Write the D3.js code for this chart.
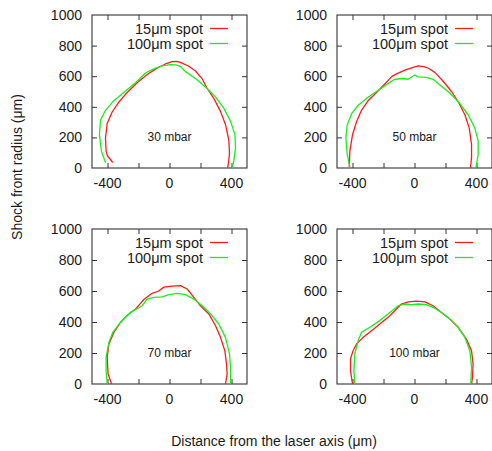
<!DOCTYPE html>
<html>
<head>
<meta charset="utf-8">
<script src="https://cdn.jsdelivr.net/npm/d3@7"></script>
<style>
  html, body { margin: 0; padding: 0; background: #fff; }
  svg { display: block; }
  text { font-family: "Liberation Sans", Arial, Helvetica, sans-serif; fill: #1a1a1a; }
</style>
</head>
<body>
<script>
// Pressure of each run (one panel each)
const pressures = ["30 mbar", "50 mbar", "70 mbar", "100 mbar"];
const seriesNames = ["15\u03bcm spot", "100\u03bcm spot"];
const xTickValues = [-400, -200, 0, 200, 400];
const xTickLabels = [-400, 0, 400];
const yTickValues = [0, 200, 400, 600, 800, 1000];

// Shock front contours: [distance from axis, radius] in µm
const spot15_30 = [[-366,36],[-400,80],[-409,110],[-413,196],[-402,291],[-370,366],[-327,430],[-273,494],[-209,557],[-144,611],[-80,653],[-26,680],[17,695],[45,697],[70,690],[125,665],[168,634],[211,583],[243,520],[286,455],[329,370],[361,285],[383,180],[387,95],[380,30],[375,0]];
const spot100_30 = [[-413,36],[-439,110],[-452,217],[-445,313],[-413,377],[-359,440],[-284,504],[-219,557],[-155,621],[-101,648],[-47,668],[6,675],[40,674],[70,665],[103,630],[168,585],[232,530],[297,465],[351,390],[394,305],[422,220],[426,132],[415,47],[404,0]];

const spot15_50 = [[-421,5],[-417,110],[-400,217],[-374,302],[-342,377],[-299,440],[-245,494],[-181,560],[-148,597],[-116,615],[-62,640],[-19,655],[24,668],[60,663],[90,652],[131,625],[185,567],[239,500],[282,433],[325,348],[353,262],[368,155],[368,68],[361,0]];
const spot100_50 = [[-417,5],[-434,89],[-443,196],[-434,281],[-406,355],[-363,410],[-310,455],[-245,500],[-181,545],[-127,580],[-73,585],[-41,580],[2,608],[24,596],[77,592],[120,580],[174,535],[228,490],[292,423],[346,348],[389,262],[411,176],[411,89],[396,0]];

const spot15_70 = [[-374,0],[-396,65],[-402,172],[-391,258],[-359,333],[-316,398],[-262,452],[-219,484],[-187,520],[-166,545],[-112,585],[-69,600],[-37,625],[17,632],[71,635],[114,613],[157,559],[200,505],[254,452],[297,376],[329,301],[357,215],[368,129],[372,65],[361,0]];
const spot100_70 = [[-402,0],[-409,86],[-409,172],[-391,269],[-366,333],[-316,398],[-252,462],[-176,505],[-144,548],[-101,559],[-47,562],[-4,576],[49,585],[103,576],[157,548],[211,505],[265,452],[318,387],[361,301],[387,194],[394,108],[394,0]];

const spot15_100 = [[-400,0],[-413,86],[-413,161],[-396,215],[-374,258],[-331,301],[-277,344],[-224,387],[-170,430],[-116,484],[-84,516],[-41,530],[13,535],[67,530],[120,505],[174,462],[228,419],[282,366],[335,290],[368,215],[378,129],[374,43],[368,0]];
const spot100_100 = [[-385,0],[-391,86],[-385,194],[-363,280],[-342,333],[-288,366],[-224,409],[-159,462],[-105,505],[-62,516],[-19,512],[24,516],[77,512],[120,495],[174,462],[228,419],[282,366],[325,301],[357,215],[368,108],[363,0]];

const spot15 = [spot15_30, spot15_50, spot15_70, spot15_100];
const spot100 = [spot100_30, spot100_50, spot100_70, spot100_100];
const seriesColors = ["#ff1a1a", "#1aee1a"];

const W = 492, H = 451;
const svg = d3.select("body").append("svg").attr("width", W).attr("height", H);

// panel grid geometry
const colLeft = [92, 337];
const rowTop = [15, 229];
const rowHeight = [153, 155];
const panelW = 155;

pressures.forEach((label, i) => {
  const col = i % 2, row = Math.floor(i / 2);
  const x0 = colLeft[col], y0 = rowTop[row], h = rowHeight[row];
  const x = d3.scaleLinear().domain([-500, 500]).range([0, panelW]);
  const y = d3.scaleLinear().domain([0, 1000]).range([h, 0]);
  const g = svg.append("g").attr("transform", `translate(${x0},${y0})`);

  // inward ticks on all four sides
  const tick = 5;
  const axisColor = "#333";
  const bottom = d3.axisBottom(x).tickValues(xTickValues).tickSizeInner(-tick).tickSizeOuter(0).tickFormat("");
  const top = d3.axisTop(x).tickValues(xTickValues).tickSizeInner(-tick).tickSizeOuter(0).tickFormat("");
  const left = d3.axisLeft(y).tickValues(yTickValues.slice(1, -1)).tickSizeInner(-tick).tickSizeOuter(0).tickFormat("");
  const right = d3.axisRight(y).tickValues(yTickValues.slice(1, -1)).tickSizeInner(-tick).tickSizeOuter(0).tickFormat("");
  [[bottom, `translate(0,${h})`], [top, "translate(0,0)"], [left, "translate(0,0)"], [right, `translate(${panelW},0)`]]
    .forEach(([ax, tr]) => {
      const a = g.append("g").attr("transform", tr).call(ax);
      a.select(".domain").remove();
      a.selectAll("line").attr("stroke", axisColor).attr("stroke-width", 1);
    });

  g.append("rect").attr("x", 0).attr("y", 0).attr("width", panelW).attr("height", h)
    .attr("fill", "none").attr("stroke", axisColor).attr("stroke-width", 1.1);

  // tick labels
  g.selectAll(".xl").data(xTickLabels).join("text")
    .attr("x", d => x(d)).attr("y", h + 20)
    .attr("text-anchor", "middle").style("font-size", "14px").text(d => d);
  g.selectAll(".yl").data(yTickValues).join("text")
    .attr("x", -10).attr("y", d => y(d) + 5)
    .attr("text-anchor", "end").style("font-size", "14px").text(d => d);

  // contours
  const line = d3.line().x(d => x(d[0])).y(d => y(d[1])).curve(d3.curveLinear);
  [spot15[i], spot100[i]].forEach((pts, s) => {
    g.append("path").datum(pts).attr("d", line)
      .attr("fill", "none").attr("stroke", seriesColors[s]).attr("stroke-width", 1.3)
      .attr("stroke-linejoin", "round");
  });

  // legend
  seriesNames.forEach((name, s) => {
    const ly = 13.5 + s * 15;
    g.append("text").attr("x", 111).attr("y", ly + 5).attr("text-anchor", "end")
      .style("font-size", "14.5px").text(name);
    g.append("line").attr("x1", 118).attr("x2", 136).attr("y1", ly).attr("y2", ly)
      .attr("stroke", seriesColors[s]).attr("stroke-width", 1.3);
  });

  g.append("text").attr("x", x(0)).attr("y", y(200) + 4)
    .attr("text-anchor", "middle").style("font-size", "12px").text(label);
});

svg.append("text").attr("transform", "translate(22,167) rotate(-90)")
  .attr("text-anchor", "middle").style("font-size", "14px").text("Shock front radius (\u03bcm)");
svg.append("text").attr("x", 274).attr("y", 446)
  .attr("text-anchor", "middle").style("font-size", "14px").text("Distance from the laser axis (\u03bcm)");
</script>
</body>
</html>
